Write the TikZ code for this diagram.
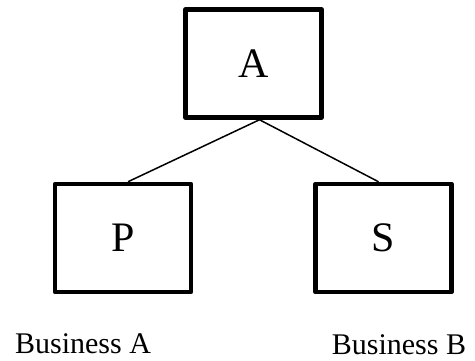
\documentclass[tikz,border=0pt]{standalone}
\usepackage{fontspec}
\setmainfont{Liberation Serif}
\usepackage{tikz}

\begin{document}
\begin{tikzpicture}[x=1pt,y=-1pt,
entitybox/.style={draw=black, line width=4.5pt, line join=round, fill=white, minimum width=136pt, minimum height=108pt, inner sep=0pt, font=\fontsize{42}{48}\selectfont},
link/.style={black, line width=1.5pt},
caption/.style={anchor=base, inner sep=0pt, text depth=0pt, font=\fontsize{30}{36}\selectfont}
]
\useasboundingbox (0,0) rectangle (475,361);

\node[entitybox] (A) at (253.5,63.5) {A};
\node[entitybox] (P) at (123,238) {P};
\node[entitybox] (S) at (383.5,238) {S};

\draw[link] ([xshift=6pt]A.south) -- ([xshift=5pt]P.north);
\draw[link] ([xshift=6pt]A.south) -- ([xshift=-5pt]S.north);

\node[caption] (capA) at (83,353) {Business A};
\node[caption] (capB) at (399,354) {Business B};
\end{tikzpicture}
\end{document}
